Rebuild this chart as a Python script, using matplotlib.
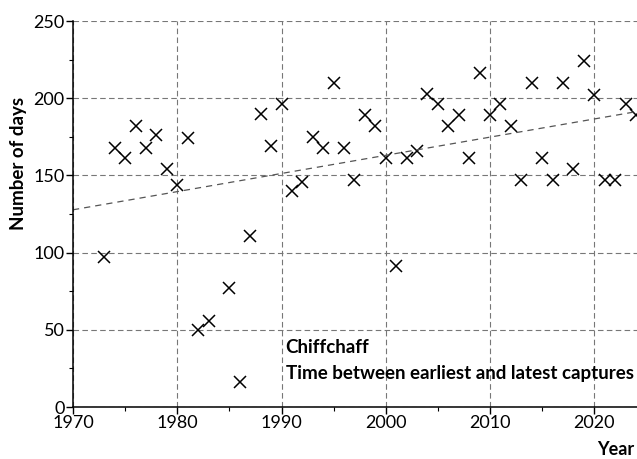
import numpy as np
import matplotlib
matplotlib.use("Agg")
import matplotlib.pyplot as plt
from matplotlib.ticker import MultipleLocator

# data
years = [1973, 1974, 1975, 1976, 1977, 1978, 1979, 1980, 1981, 1982, 1983,
         1985, 1986, 1987, 1988, 1989, 1990, 1991, 1992, 1993, 1994, 1995,
         1996, 1997, 1998, 1999, 2000, 2001, 2002, 2003, 2004, 2005, 2006,
         2007, 2008, 2009, 2010, 2011, 2012, 2013, 2014, 2015, 2016, 2017,
         2018, 2019, 2020, 2021, 2022, 2023, 2024]
days = [97, 168, 161, 182, 168, 176, 154, 144, 174, 50, 56,
        77, 16, 111, 190, 169, 196, 140, 146, 175, 168, 210,
        168, 147, 189, 182, 161, 91, 161, 166, 203, 196, 182,
        189, 161, 216, 189, 196, 182, 147, 210, 161, 147, 210,
        154, 224, 202, 147, 147, 196, 189]

species = "Chiffchaff"
subtitle = "Time between earliest and latest captures"

plt.rcParams['font.family'] = ['Lato', 'DejaVu Sans']

fig = plt.figure(figsize=(6.37, 4.59), dpi=100)
ax = fig.add_axes([73 / 637, 52 / 459, 564 / 637, 386 / 459])

ax.plot(years, days, linestyle='none', marker='x', markersize=9,
        markeredgewidth=1.1, color='black', clip_on=False)

# linear trend
coef = np.polyfit(years, days, 1)
tx = np.array([1970, 2024.1])
ax.plot(tx, np.polyval(coef, tx), linestyle=(0, (5, 4)), color='#555555',
        linewidth=0.9)

ax.set_xlim(1970, 2024.1)
ax.set_ylim(0, 250)
ax.xaxis.set_major_locator(MultipleLocator(10))
ax.xaxis.set_minor_locator(MultipleLocator(5))
ax.yaxis.set_major_locator(MultipleLocator(50))
ax.yaxis.set_minor_locator(MultipleLocator(25))

ax.grid(True, which='major', linestyle=(0, (5, 3)), color='#777777',
        linewidth=0.8)
ax.set_axisbelow(True)
for s in ['top', 'right']:
    ax.spines[s].set_visible(False)
for s in ['left', 'bottom']:
    ax.spines[s].set_linewidth(1.1)

ax.tick_params(which='major', length=5, width=1, labelsize=13, pad=1)
ax.tick_params(which='minor', length=3, width=0.8)

ax.set_ylabel("Number of days", fontsize=13.5, fontweight='bold',
              va='center')
ax.yaxis.set_label_coords(-0.096, 0.63)
fig.text(0.995, 0.003, "Year", fontsize=13, fontweight='bold',
         ha='right', va='bottom')

ax.text(1990.4, 44, species, fontsize=13.5, fontweight='bold', va='top')
ax.text(1990.4, 27, subtitle, fontsize=13.5, fontweight='bold', va='top')

fig.savefig("out.png", dpi=100)
